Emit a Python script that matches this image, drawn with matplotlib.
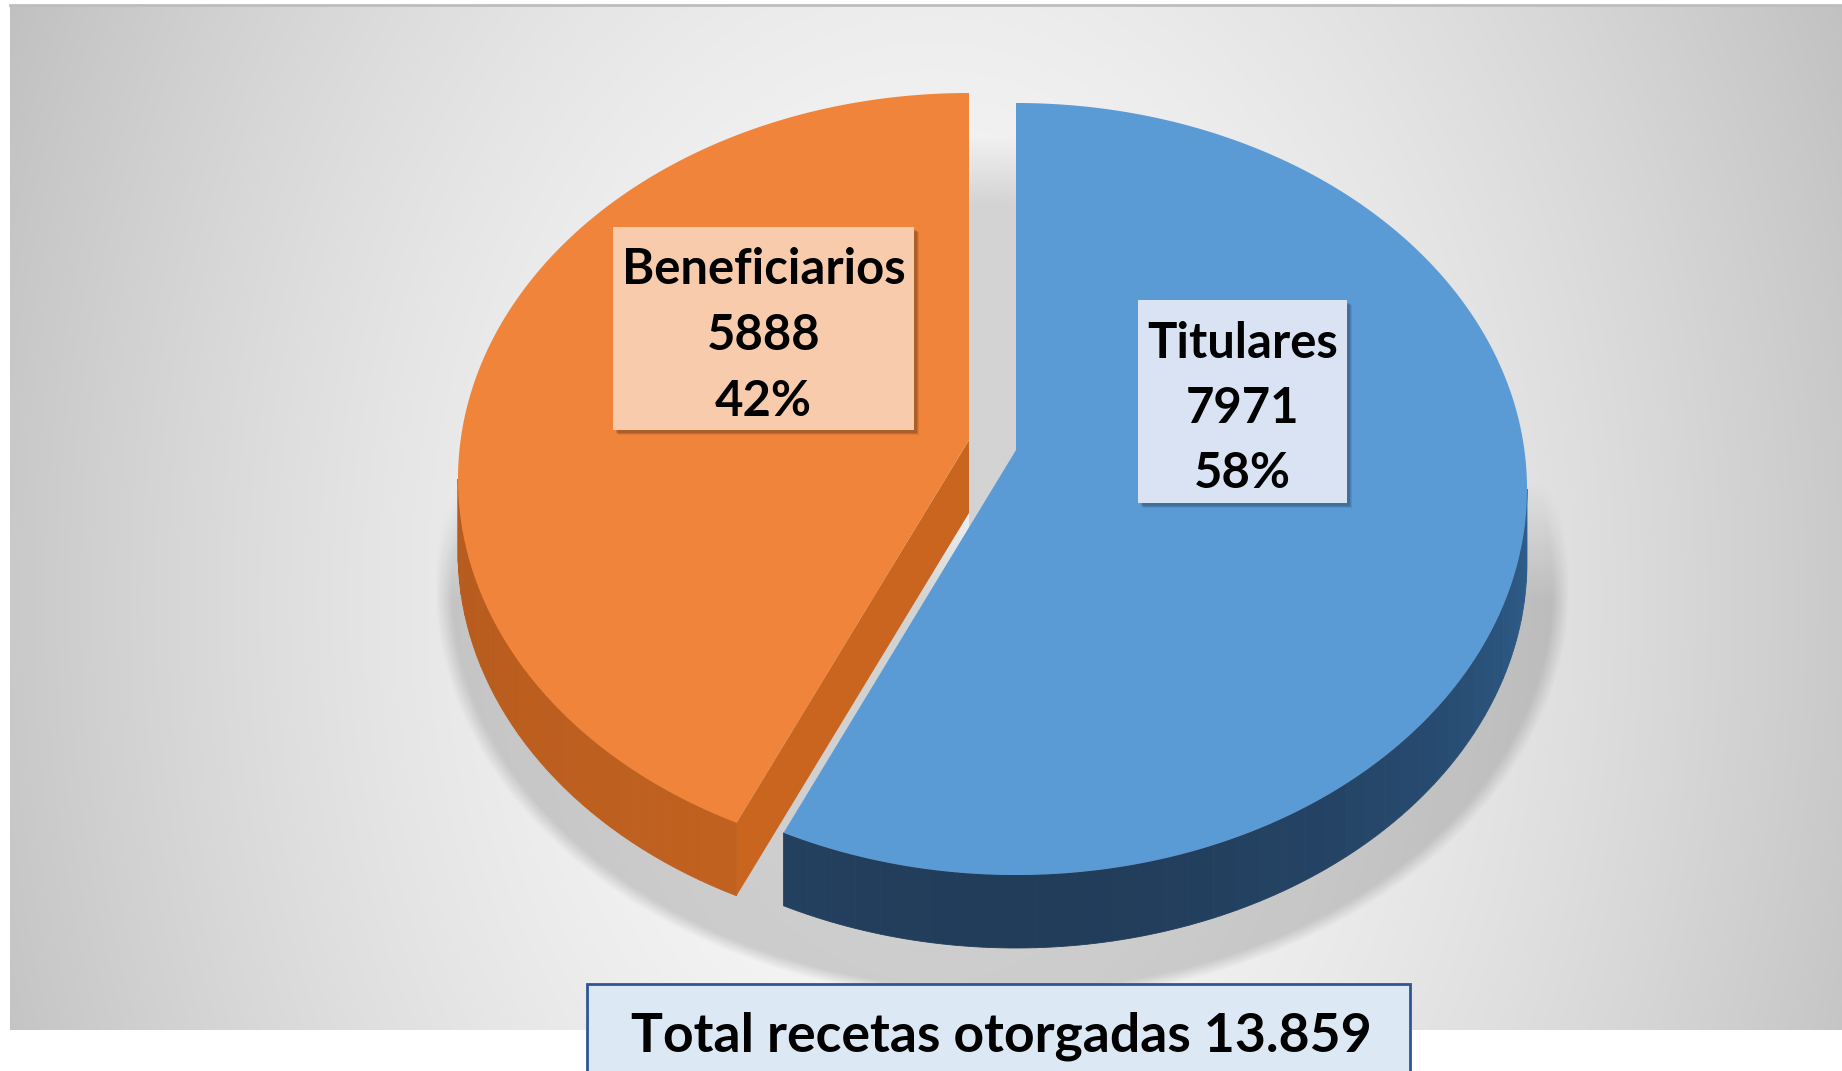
import numpy as np
import matplotlib
matplotlib.use("Agg")
import matplotlib.pyplot as plt
from matplotlib.patches import Polygon, Rectangle
from matplotlib.colors import to_rgb

# --- data -------------------------------------------------------------
categories = ["Titulares", "Beneficiarios"]
values = [7971, 5888]
top_colors = ["#5B9BD5", "#F0843A"]
side_colors = [("#2F5F8E", "#223D5A"), ("#B65B1E", "#C0611F")]
label_fills = ["#DAE3F3", "#F8CBAD"]
total_text = "Total recetas otorgadas"

FONT = ["Lato", "DejaVu Sans"]

# --- layout (pixels of the 1842x1071 canvas) --------------------------
W, H = 1842, 1071
CX, CY = 1016, 489          # centre of the top-face ellipse
RX, RY = 511, 386
APEX_LIFT = 39              # disc centre appears above ellipse centre
DEPTH = 73
EXPLODE = (-47, -10)        # offset of the pulled-out slice
LABEL_BOXES = [(1138, 300, 1347, 503), (613, 227, 914, 430)]
LABEL_WIDTH = 283           # px width of "Beneficiarios"
TOTAL_WIDTH = 741           # px width of the total line


def rim(theta, dx=0.0, dy=0.0):
    t = np.radians(theta)
    return np.column_stack([CX + RX * np.cos(t) + dx, CY - RY * np.sin(t) + dy])


def mix(c1, c2, f):
    a, b = np.array(to_rgb(c1)), np.array(to_rgb(c2))
    return tuple(a + (b - a) * f)


def fit_size(text, width, renderer, base=40):
    t = ax.text(0, 0, text, fontsize=base, fontweight="bold", family=FONT)
    w = t.get_window_extent(renderer).width
    t.remove()
    return base * width / w


fig = plt.figure(figsize=(W / 100, H / 100), dpi=100)
fig.patch.set_facecolor("white")
ax = fig.add_axes([0, 0, 1, 1])
ax.set_xlim(0, W)
ax.set_ylim(H, 0)
ax.axis("off")
renderer = fig.canvas.get_renderer()

# background panel with radial grey gradient
px0, px1, py0, py1 = 10, W, 5, 1030
yy, xx = np.mgrid[py0:py1:2, px0:px1:2]
r = np.sqrt(((xx - 930) / 930.0) ** 2 + ((yy - 600) / 1300.0) ** 2)
v = np.clip(0.985 - 0.2 * r ** 1.6, 0, 1)
ax.imshow(np.dstack([v, v, v]), extent=(px0, px1, py1, py0), zorder=0,
          interpolation="bilinear", aspect="auto")
ax.plot([px0, px1], [py0, py0], color="#BDBDBD", lw=2, zorder=1)

# soft shadow beneath the pie
scx, scy, srx, sry = CX - 15, CY + DEPTH + 25, RX + 56, RY + 30
d = np.sqrt(((xx - scx) / srx) ** 2 + ((yy - scy) / sry) ** 2)
alpha = 0.16 * np.clip((1.0 - d) / 0.03, 0, 1) * np.clip((yy - (CY - 10)) / 120.0, 0, 1)
shadow = np.zeros(xx.shape + (4,))
shadow[..., 3] = alpha
ax.imshow(shadow, extent=(px0, px1, py1, py0), zorder=2,
          interpolation="bilinear", aspect="auto")

total = sum(values)
fracs = [v_ / total for v_ in values]
start = 90.0
end = start - 360 * fracs[0]          # Titulares runs clockwise from 12 o'clock
apex = (CX, CY - APEX_LIFT)

# grey gap between the slices (cut face seen through the gap)
gx0, gx1 = CX + EXPLODE[0], CX
gy0, gy1 = CY - RY + 30, CY - APEX_LIFT + 100
gap = np.ones((60, 2, 4))
gap[..., :3] = to_rgb("#D3D3D3")
gap[..., 3] = np.clip(np.linspace(0, 6, 60), 0, 1)[:, None]
ax.imshow(gap, extent=(gx0, gx1, gy1, gy0), zorder=3, aspect="auto",
          interpolation="bilinear")

# --- Beneficiarios (exploded) ------------------------------------------
ex, ey = EXPLODE
o_start, o_end = start, start + 360 * fracs[1]
oapex = (apex[0] + ex, apex[1] + ey)
# cut face at the lower edge
p_top = rim(o_end, ex, ey)[0]
ax.add_patch(Polygon([oapex, p_top, (p_top[0], p_top[1] + DEPTH),
                      (oapex[0], oapex[1] + DEPTH)], closed=True,
                     facecolor="#C9651F", edgecolor="none", zorder=4))
# rim side
n = 40
ts = np.linspace(180, o_end, n + 1)
for i in range(n):
    seg = rim(np.linspace(ts[i], ts[i + 1], 4), ex, ey)
    poly = np.vstack([seg, seg[::-1] + [0, DEPTH]])
    ax.add_patch(Polygon(poly, closed=True, lw=0.6,
                         facecolor=mix(*side_colors[1], i / n),
                         edgecolor=mix(*side_colors[1], i / n), zorder=4))
pts = np.vstack([[oapex], rim(np.linspace(o_start, o_end, 300), ex, ey)])
ax.add_patch(Polygon(pts, closed=True, facecolor=top_colors[1],
                     edgecolor="none", zorder=5))

# --- Titulares ----------------------------------------------------------
ts = np.linspace(end, 0, n + 1)
for i in range(n):
    seg = rim(np.linspace(ts[i], ts[i + 1], 4))
    poly = np.vstack([seg, seg[::-1] + [0, DEPTH]])
    f = 1 - abs(np.sin(np.radians((ts[i] + ts[i + 1]) / 2)))
    c = mix(side_colors[0][1], side_colors[0][0], f)
    ax.add_patch(Polygon(poly, closed=True, lw=0.6, facecolor=c,
                         edgecolor=c, zorder=6))
pts = np.vstack([[apex], rim(np.linspace(start, end, 400))])
ax.add_patch(Polygon(pts, closed=True, facecolor=top_colors[0],
                     edgecolor="none", zorder=7))

# --- data labels -------------------------------------------------------
label_size = fit_size(categories[1], LABEL_WIDTH, renderer)
for name, val, frac, fill, (x0, y0, x1, y1) in zip(
        categories, values, fracs, label_fills, LABEL_BOXES):
    for k, a in enumerate([0.12, 0.1, 0.08]):
        ax.add_patch(Rectangle((x0 + 3 + k, y0 + 3 + k), x1 - x0, y1 - y0,
                               facecolor="black", alpha=a, edgecolor="none",
                               zorder=8))
    ax.add_patch(Rectangle((x0, y0), x1 - x0, y1 - y0, facecolor=fill,
                           edgecolor="none", zorder=9))
    xc = (x0 + x1) / 2
    lines = [name, f"{val}", f"{round(frac * 100)}%"]
    for j, line in enumerate(lines):
        ax.text(xc, y0 + 43 + j * 65.5, line, ha="center", va="center",
                fontsize=label_size, fontweight="bold", family=FONT,
                color="black", zorder=10)

# --- total box ---------------------------------------------------------
total_line = f"{total_text} {total:,}".replace(",", ".")
ax.add_patch(Rectangle((587, 984), 823, 100, facecolor="#DDE8F5",
                       edgecolor="#2F5597", lw=2, zorder=11, clip_on=False))
ax.text(1001, 1036, total_line, ha="center", va="center",
        fontsize=fit_size(total_line, TOTAL_WIDTH, renderer),
        fontweight="bold", family=FONT, color="black", zorder=12)

fig.savefig("out.png", dpi=100, facecolor="white")
